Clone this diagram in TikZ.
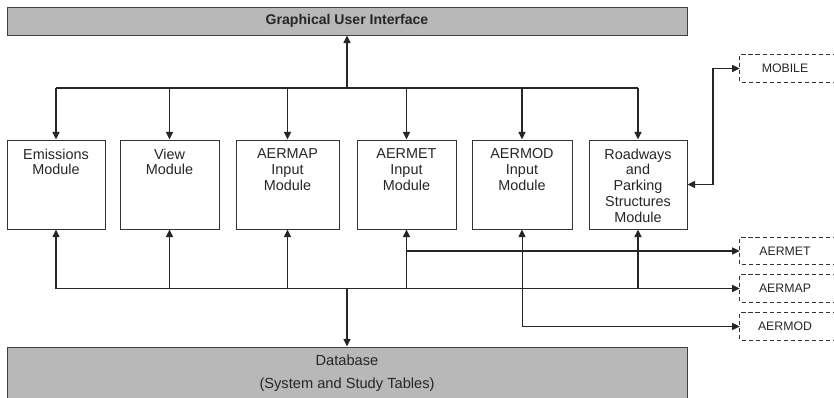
\documentclass[tikz,border=0pt]{standalone}
\usepackage{fontspec}
\setmainfont{Liberation Sans}
\usetikzlibrary{arrows.meta}
\definecolor{panel}{RGB}{184,184,184}
\begin{document}
\begin{tikzpicture}[x=0.03cm,y=-0.03cm,
  line/.style={line width=1.2pt,draw=black!85},
  thin line/.style={line width=0.8pt,draw=black!85},
  arr/.style={line,-{Triangle[length=6.5pt,width=6pt]}},
  arrboth/.style={line,{Triangle[length=6.5pt,width=6pt]}-{Triangle[length=6.5pt,width=6pt]}},
  thinboth/.style={thin line,{Triangle[length=6.5pt,width=6pt]}-{Triangle[length=6.5pt,width=6pt]}},
  panelbox/.style={draw=black!75,line width=0.8pt,fill=panel,minimum width=20.4cm,inner sep=0pt},
  modbox/.style={draw=black!80,line width=0.8pt,minimum height=2.67cm,inner sep=0pt},
  modtext/.style={anchor=north,align=center,inner sep=0pt,font=\fontsize{12.3}{13.4}\selectfont,text=black!85},
  extbox/.style={minimum width=2.7cm,minimum height=0.81cm,inner sep=0pt,font=\fontsize{10.5}{12}\selectfont,text=black!85},
  extline/.style={draw=black!80,line width=0.8pt,dash pattern=on 3.5pt off 2.5pt}
]
\useasboundingbox (0,0) rectangle (834,398);

% panels
\node[panelbox,minimum height=0.84cm,font=\bfseries\fontsize{12}{14}\selectfont,text=black!85] (gui) at (347,21) {Graphical User Interface};
\node[panelbox,minimum height=1.59cm,align=center,font=\fontsize{12.5}{19.6}\selectfont,text=black!85] (db) at (347,373.5) {Database\\(System and Study Tables)};

% modules
\node[modbox,minimum width=2.94cm] (em) at (56,184.5) {};
\node[modbox,minimum width=2.97cm] (vw) at (169.5,184.5) {};
\node[modbox,minimum width=3.09cm] (amap) at (287.5,184.5) {};
\node[modbox,minimum width=2.97cm] (amet) at (406.5,184.5) {};
\node[modbox,minimum width=3.0cm] (amod) at (522,184.5) {};
\node[modbox,minimum width=2.94cm] (rp) at (638,184.5) {};

\node[modtext] (emt) at ([yshift=-0.27cm]em.north) {Emissions\\Module};
\node[modtext] (vwt) at ([yshift=-0.27cm]vw.north) {View\\Module};
\node[modtext] (amapt) at ([yshift=-0.27cm]amap.north) {AERMAP\\Input\\Module};
\node[modtext] (amett) at ([yshift=-0.27cm]amet.north) {AERMET\\Input\\Module};
\node[modtext] (amodt) at ([yshift=-0.27cm]amod.north) {AERMOD\\Input\\Module};
\node[modtext] (rpt) at ([yshift=-0.27cm]rp.north) {Roadways\\and\\Parking\\Structures\\Module};

% external (dashed) boxes
\node[extbox] (mob) at (785,68.5) {MOBILE};
\node[extbox] (metx) at (785,251) {AERMET};
\node[extbox] (mapx) at (785,288.5) {AERMAP};
\node[extbox] (modx) at (785,326.5) {AERMOD};
\foreach \n in {mob,metx,mapx,modx}{
  \draw[extline] ([xshift=0.2cm]\n.north east) -- (\n.north west) -- (\n.south west) -- ([xshift=0.2cm]\n.south east);
}

% buses
\coordinate (tbus) at (347,88);
\coordinate (bbus) at (347,288.5);
\coordinate (mv) at (713,184.5);

\draw[arr] (tbus) -- (gui.south);
\draw[line] (em.north |- tbus) -- (rp.north |- tbus);
\foreach \m in {em,vw,amap,amet,amod,rp}{
  \draw[arr] (\m.north |- tbus) -- (\m.north);
}
\draw[arrboth] (rp.east) -- (mv) |- (mob.west);

\draw[arr] (em.south |- mapx.west) -- (mapx.west);
\foreach \m in {em,vw,amap,amet,rp}{
  \draw[arr] (\m.south |- bbus) -- (\m.south);
}
\draw[arr] (amet.south |- metx.west) -- (metx.west);
\draw[thinboth] (modx.west) -| (amod.south);
\draw[arr] (bbus) -- (db.north);
\end{tikzpicture}
\end{document}
